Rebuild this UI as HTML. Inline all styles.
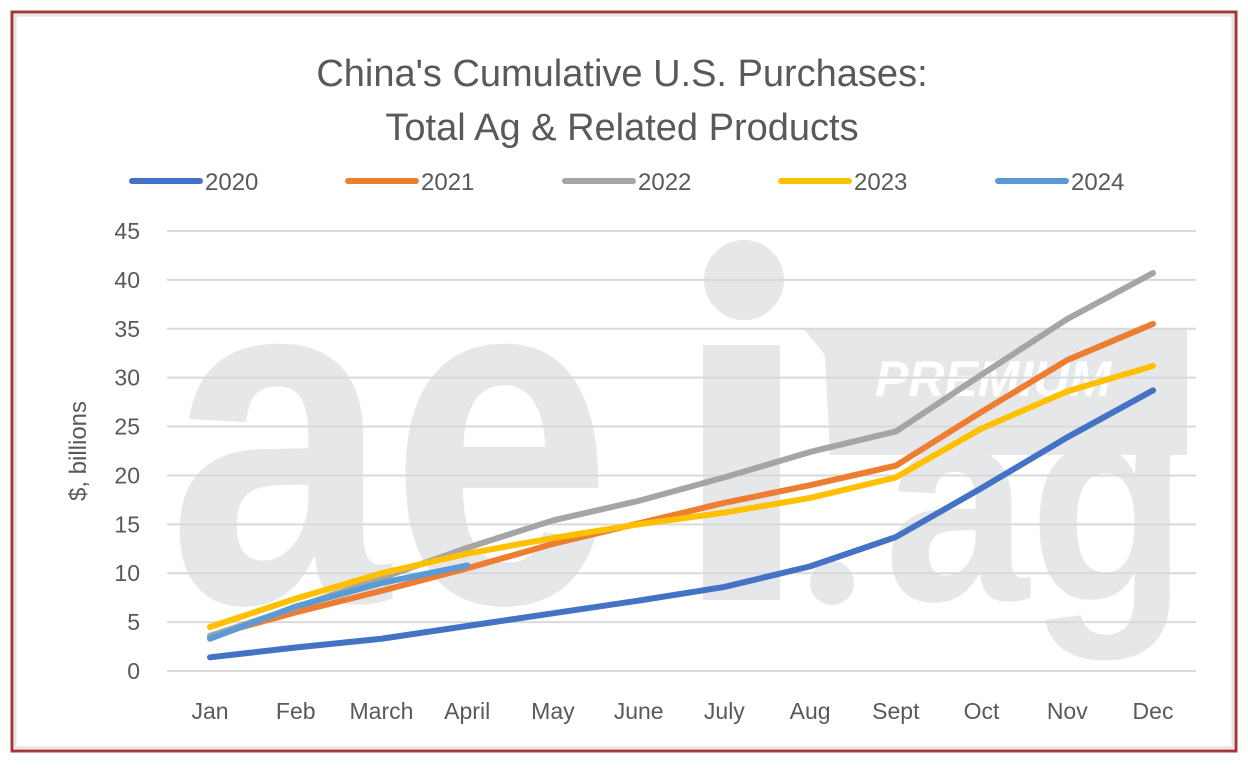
<!DOCTYPE html>
<html><head><meta charset="utf-8"><style>
body{margin:0;background:#fff;}
svg{display:block;font-family:"Liberation Sans",sans-serif;}
</style></head><body>
<svg id="c" width="1248" height="768" viewBox="0 0 1248 768">
<rect x="12" y="12" width="1224" height="739" fill="#fff" stroke="#a33a3a" stroke-width="3"/>
<rect x="15.5" y="15.5" width="1217" height="732" fill="none" stroke="#e2e2e2" stroke-width="2"/>
<g fill="#e6e7e8">
<text x="168" y="602" font-size="480" font-weight="bold" textLength="444" lengthAdjust="spacingAndGlyphs">ae</text>
<rect x="703" y="345" width="77" height="255"/>
<circle cx="744" cy="280" r="40"/>
<polygon points="803,328 1187,328 1187,455 830,455 825,355"/>
<circle cx="832" cy="583" r="22"/>
<text x="884" y="600" font-size="285" font-weight="bold" textLength="304" lengthAdjust="spacingAndGlyphs">ag</text>
<text x="875" y="396" font-size="50" font-weight="bold" font-style="italic" fill="#fff">PREMIUM</text>
</g>
<text x="622" y="86" font-size="38" fill="#595959" text-anchor="middle">China's Cumulative U.S. Purchases:</text>
<text x="622" y="140" font-size="38" fill="#595959" text-anchor="middle">Total Ag &amp; Related Products</text>
<text transform="translate(86,451) rotate(-90)" font-size="24" fill="#595959" text-anchor="middle">$, billions</text>
<g id="grid"></g><g id="ax"></g><g id="lines"></g><g id="leg"></g>
</svg>
<script>
const categories=["Jan","Feb","March","April","May","June","July","Aug","Sept","Oct","Nov","Dec"];
const yTicks=[0,5,10,15,20,25,30,35,40,45];
const seriesNames=["2020","2021","2022","2023","2024"];
const seriesColors=["#4472c4","#ed7d31","#a5a5a5","#ffc000","#5b9bd5"];
const s2020=[1.4,2.4,3.3,4.6,5.9,7.2,8.6,10.7,13.7,18.7,23.9,28.7];
const s2021=[3.6,6.0,8.2,10.5,13.0,15.1,17.2,19.0,21.0,26.5,31.8,35.5];
const s2022=[3.6,6.5,9.5,12.6,15.4,17.4,19.8,22.4,24.5,30.3,36.0,40.7];
const s2023=[4.5,7.4,10.0,12.0,13.6,15.0,16.2,17.7,19.8,24.8,28.6,31.2];
const s2024=[3.3,6.6,9.0,10.8];
const allSeries=[s2020,s2021,s2022,s2023,s2024];
const NS="http://www.w3.org/2000/svg";
const x=i=>210+i*(1153-210)/11;
const y=v=>671-v*(671-231)/45;
function mk(t,a,p){const e=document.createElementNS(NS,t);for(const k in a)e.setAttribute(k,a[k]);p.appendChild(e);return e;}
const grid=document.getElementById('grid'),ax=document.getElementById('ax'),lines=document.getElementById('lines'),leg=document.getElementById('leg');
yTicks.forEach(v=>{
 const l=mk('line',{x1:167,x2:1196,y1:y(v),y2:y(v),stroke:'#d9d9d9','stroke-width':2},grid);
 
 
 const t=mk('text',{x:140,y:y(v)+8,'font-size':23,fill:'#595959','text-anchor':'end'},ax);
 t.textContent=v;
 
 
});
categories.forEach((c,i)=>{
 const t=mk('text',{x:x(i),y:719,'font-size':23,fill:'#595959','text-anchor':'middle'},ax);
 t.textContent=c;
 
 
});
allSeries.forEach((s,k)=>{
 const p=mk('polyline',{points:s.map((v,i)=>x(i)+','+y(v)).join(' '),fill:'none',stroke:seriesColors[k],'stroke-width':6,'stroke-linecap':'round','stroke-linejoin':'round'},lines);
 
 
});
const legX=[132,348,565,781,998];
seriesNames.forEach((n,k)=>{
 const g=mk('g',{},leg);
 
 
 mk('line',{x1:legX[k],x2:legX[k]+68,y1:181,y2:181,stroke:seriesColors[k],'stroke-width':6,'stroke-linecap':'round'},g);
 const t=mk('text',{x:legX[k]+73,y:190,'font-size':24,fill:'#595959'},g);
 t.textContent=n;
});
</script>
</body></html>
